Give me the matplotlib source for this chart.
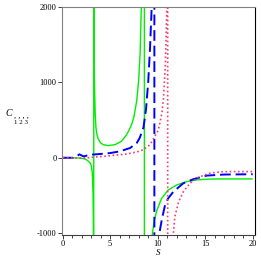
import matplotlib
matplotlib.use("Agg")
import matplotlib.pyplot as plt
import numpy as np

# Green curve (solid)
s_green = [0.0, 0.5, 1.0, 1.5, 2.0, 2.35, 2.6, 2.9, 3.0, 3.1, 3.15, 3.2, 3.23, 3.25, 3.26,
           3.28, 3.3, 3.32, 3.36, 3.42, 3.5, 3.6, 3.75, 4.0, 4.27, 4.8, 5.5, 6.2, 6.74, 7.0,
           7.26, 7.5, 7.8, 8.0, 8.15, 8.3, 8.45, 8.59,
           8.61, 9.0, 9.4, 9.47, 9.6, 9.9, 10.4, 11.1, 12.0, 13.05, 14.1, 15.5, 17.0, 20.0]
c_green = [0, 0, 0, -3, -8, -17, -35, -70, -100, -180, -280, -500, -900, -1800, -5000,
           5000, 2100, 1300, 900, 600, 400, 310, 245, 195, 173, 160, 173, 218, 307, 370,
           440, 540, 760, 1030, 1380, 2100, 4200, 100000,
           -100000, -3000, -1050, -983, -860, -700, -540, -427, -360, -316, -293, -282, -280, -280]

# Blue curve (dashed)
s_blue = [0.0, 1.1, 1.5, 1.75, 2.0, 2.2, 2.9, 3.9, 5.0, 6.0, 7.1, 7.8, 8.1, 8.3, 8.5, 8.77,
          9.0, 9.19, 9.37, 9.5, 9.64,
          9.66, 10.0, 10.17, 10.42, 10.77, 11.1, 11.65, 12.7, 13.75, 15.15, 17.0, 20.0]
c_blue = [0, 0, 20, 45, 30, 17, 40, 49, 62, 84, 129, 196, 260, 329, 396, 640,
          996, 1440, 2000, 4000, 100000,
          -100000, -2000, -1004, -827, -627, -537, -449, -337, -284, -236, -222, -218]

# Red curve (dotted)
s_red = [0.0, 1.5, 2.5, 2.9, 4.0, 5.0, 6.7, 7.8, 8.5, 9.2, 9.7, 10.06, 10.25, 10.45, 10.6,
         10.8, 10.9, 11.0, 11.04,
         11.06, 11.4, 11.65, 11.8, 12.2, 12.7, 13.4, 14.3, 15.5, 16.9, 20.0]
c_red = [0, -3, -5, 5, 15, 27, 49, 76, 107, 173, 284, 360, 470, 600, 773,
         1217, 1662, 2200, 100000,
         -100000, -2000, -1004, -782, -582, -449, -337, -257, -204, -183, -183]

xticks = [0, 5, 10, 15, 20]
yticks = [-1000, 0, 1000, 2000]

W = H = 261
fig = plt.figure(figsize=(2.61, 2.61), dpi=100)
ax = fig.add_axes([62 / W, 26.5 / H, 193 / W, 228 / H])

ax.plot(s_green, c_green, color="#00ee00", lw=1.0, solid_capstyle="butt")
ax.plot(s_blue, c_blue, color="#0000ff", lw=1.4, dashes=(5.5, 2.5))
ax.plot(s_red, c_red, color="#f04070", lw=1.2, dashes=(1.0, 1.5))

ax.set_xlim(-0.07, 20.24)
ax.set_ylim(-1015, 2000)

serif = ["Liberation Serif", "DejaVu Serif"]
ax.set_xticks(xticks)
ax.set_xticklabels([str(t) for t in xticks], family=serif, fontsize=6)
ax.set_xticks(np.arange(0, 21, 1), minor=True)
ax.set_yticks(yticks)
ax.set_yticklabels([str(t) for t in yticks], family=serif, fontsize=6)
ax.tick_params(axis="both", which="major", direction="out", length=3, width=0.7,
               color="#404040", pad=1)
ax.tick_params(axis="x", which="minor", direction="out", length=2, width=0.7, color="#404040")

for side, col in [("left", "#808080"), ("top", "#808080"), ("bottom", "#404040"), ("right", "black")]:
    ax.spines[side].set_color(col)
    ax.spines[side].set_linewidth(0.8)

fig.text(158 / W, 1 - 253 / H, "S", family=serif, style="italic", fontsize=6.5,
         ha="center", va="center")
fig.text(9 / W, 1 - 113 / H, "C", family=serif, style="italic", fontsize=7,
         ha="center", va="center")
fig.text(21 / W, 1 - 116 / H, ", , , ,", family=serif, style="italic", fontsize=6,
         ha="center", va="center")
fig.text(21 / W, 1 - 123 / H, "1 2 3", family=serif, fontsize=5,
         ha="center", va="center")

fig.savefig("out.png", dpi=100)
